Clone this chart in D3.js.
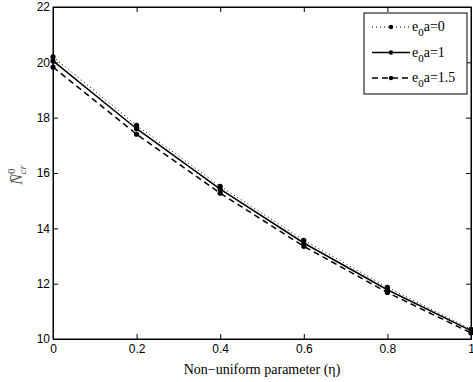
<!DOCTYPE html>
<html>
<head>
<meta charset="utf-8">
<script src="https://cdn.jsdelivr.net/npm/d3@7"></script>
<style>
  body { margin: 0; background: #fff; }
  svg { display: block; }
</style>
</head>
<body>
<svg id="chart" width="473" height="382"></svg>
<script>
// data
const eta = [0, 0.2, 0.4, 0.6, 0.8, 1];
const e0a0 = [20.2, 17.72, 15.52, 13.57, 11.87, 10.35];
const e0a1 = [20.05, 17.6, 15.42, 13.47, 11.78, 10.3];
const e0a15 = [19.83, 17.4, 15.27, 13.35, 11.68, 10.22];
const xTicks = [0, 0.2, 0.4, 0.6, 0.8, 1];
const yTicks = [10, 12, 14, 16, 18, 20, 22];

const series = [
  { values: e0a0, dash: '1,3', sub: '0', eq: 'a=0' },
  { values: e0a1, dash: null, sub: '0', eq: 'a=1' },
  { values: e0a15, dash: '6,4', sub: '0', eq: 'a=1.5' }
];

const sansFont = "'Liberation Sans', Arial, sans-serif";
const serifFont = "'Liberation Serif', 'Times New Roman', serif";

const margin = { left: 53, right: 2, top: 7, bottom: 43 };
const width = 473, height = 382;

const svg = d3.select('#chart');

const x = d3.scaleLinear().domain([0, 1]).range([margin.left, width - margin.right]);
const y = d3.scaleLinear().domain([10, 22]).range([height - margin.bottom, margin.top]);

// frame
svg.append('rect')
  .attr('x', x(0)).attr('y', y(22))
  .attr('width', x(1) - x(0)).attr('height', y(10) - y(22))
  .attr('fill', 'none').attr('stroke', '#000').attr('stroke-width', 1);

// axes (ticks inside)
const xAxis = svg.append('g').attr('transform', `translate(0,${y(10)})`)
  .call(d3.axisBottom(x).tickValues(xTicks).tickSizeInner(-5).tickSizeOuter(0).tickPadding(8)
    .tickFormat(d => d3.format('')(d)));
const xTop = svg.append('g').attr('transform', `translate(0,${y(22)})`)
  .call(d3.axisTop(x).tickValues(xTicks).tickSizeInner(-5).tickSizeOuter(0).tickFormat(''));
const yAxis = svg.append('g').attr('transform', `translate(${x(0)},0)`)
  .call(d3.axisLeft(y).tickValues(yTicks).tickSizeInner(-5).tickSizeOuter(0).tickPadding(3));
const yRight = svg.append('g').attr('transform', `translate(${x(1)},0)`)
  .call(d3.axisRight(y).tickValues(yTicks).tickSizeInner(-5).tickSizeOuter(0).tickFormat(''));

[xAxis, xTop, yAxis, yRight].forEach(g => {
  g.attr('font-family', sansFont).attr('font-size', 12);
  g.select('.domain').attr('stroke', '#000');
  g.selectAll('.tick line').attr('stroke', '#000');
  g.selectAll('text').attr('fill', '#000');
});
xAxis.selectAll('text').attr('dy', '0.5em');

// lines
const line = d3.line().x((d, i) => x(eta[i])).y(d => y(d));

series.forEach(s => {
  svg.append('path')
    .datum(s.values)
    .attr('d', line)
    .attr('fill', 'none')
    .attr('stroke', '#000')
    .attr('stroke-width', s.dash === '1,3' ? 1 : 1.5)
    .attr('stroke-dasharray', s.dash);
  svg.append('g').selectAll('circle')
    .data(s.values)
    .join('circle')
      .attr('cx', (d, i) => x(eta[i]))
      .attr('cy', d => y(d))
      .attr('r', 2.6)
      .attr('fill', '#000');
});

// legend
const lg = svg.append('g');
lg.append('rect')
  .attr('x', 364).attr('y', 13).attr('width', 103).attr('height', 81)
  .attr('fill', '#fff').attr('stroke', '#000').attr('stroke-width', 1);

series.forEach((s, i) => {
  const ly = 27 + i * 25.5;
  lg.append('line')
    .attr('x1', 372).attr('x2', 410).attr('y1', ly).attr('y2', ly)
    .attr('stroke', '#000')
    .attr('stroke-width', s.dash === '1,3' ? 1 : 1.5)
    .attr('stroke-dasharray', s.dash);
  lg.append('circle').attr('cx', 391).attr('cy', ly).attr('r', 2.2).attr('fill', '#000');
  const t = lg.append('text')
    .attr('x', 412).attr('y', ly + 4)
    .style('font-family', serifFont)
    .attr('font-size', 14).attr('fill', '#000');
  t.append('tspan').text('e');
  t.append('tspan').attr('dy', 5).attr('font-size', 11).text(s.sub);
  t.append('tspan').attr('dy', -5).text(s.eq);
});

// axis titles
svg.append('text')
  .attr('x', (x(0) + x(1)) / 2).attr('y', 374)
  .attr('text-anchor', 'middle')
  .style('font-family', serifFont)
  .attr('font-size', 14).attr('fill', '#000')
  .text('Non\u2212uniform parameter (\u03b7)');

const yl = svg.append('text')
  .attr('transform', `translate(22,${(y(10) + y(22)) / 2 + 2}) rotate(-90)`)
  .attr('text-anchor', 'middle')
  .style('font-family', serifFont)
  .attr('font-style', 'italic')
  .attr('font-size', 16).attr('fill', '#555');
yl.append('tspan').text('N\u0304');
yl.append('tspan').attr('dy', -7).attr('font-size', 11).attr('font-style', 'normal').text('0');
yl.append('tspan').attr('dx', -6).attr('dy', 11).attr('font-size', 11).text('cr');
</script>
</body>
</html>
